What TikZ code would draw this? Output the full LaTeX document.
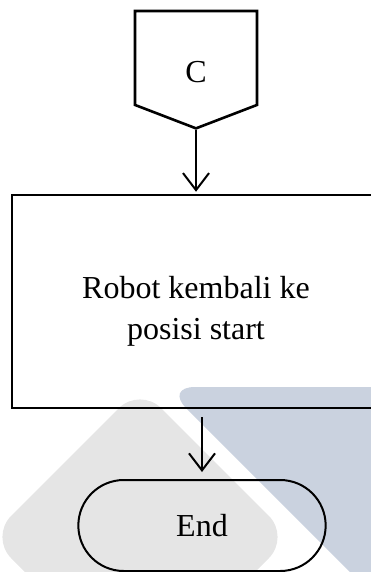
\documentclass[tikz,border=0pt]{standalone}
\usepackage{fontspec}
\setmainfont{Liberation Serif}
\usetikzlibrary{arrows.meta,shapes.symbols,shapes.misc}
\definecolor{wmgray}{HTML}{E5E5E5}
\definecolor{wmblue}{HTML}{CAD2DF}
\tikzstyle{lbl}=[font=\fontsize{32}{41}\selectfont]
\tikzstyle{flow}=[-{Straight Barb[length=17pt,width=26pt]},line width=2pt]

\begin{document}
\begin{tikzpicture}[x=1pt,y=-1pt]
\useasboundingbox (0,0) rectangle (371,572);
% logo shapes in the back
\fill[wmgray,rounded corners=30pt] (140,387) -- (290,537) -- (140,687) -- (-10,537) -- cycle;
\fill[wmblue,rounded corners=30pt] (165,387) -- (430,387) -- (430,652) -- cycle;

\tikzstyle{conn}=[draw,line width=2.6pt,shape=signal,signal to=south,signal pointer angle=138,minimum width=122pt,minimum height=98pt,inner sep=0pt,text height=49pt,text depth=0pt]
\tikzstyle{proc}=[draw,rectangle,line width=2.5pt,minimum width=368pt,minimum height=213pt,align=center]
\tikzstyle{term}=[draw,rounded rectangle,line width=2pt,minimum width=254pt,minimum height=91pt]

\node[conn,lbl] (c) at (196,58) {C};
\node[proc,lbl] (robot) at (196,301.5) {\rule{0pt}{41pt}Robot kembali ke\\posisi start};
\node[term,lbl] (end) at (202,525.5) {End};

\path (c.south) edge[flow,shorten >=2pt] (robot.north);
\path (end.north |- robot.south) edge[flow,shorten <=8pt,shorten >=7pt] (end.north);
\end{tikzpicture}
\end{document}
